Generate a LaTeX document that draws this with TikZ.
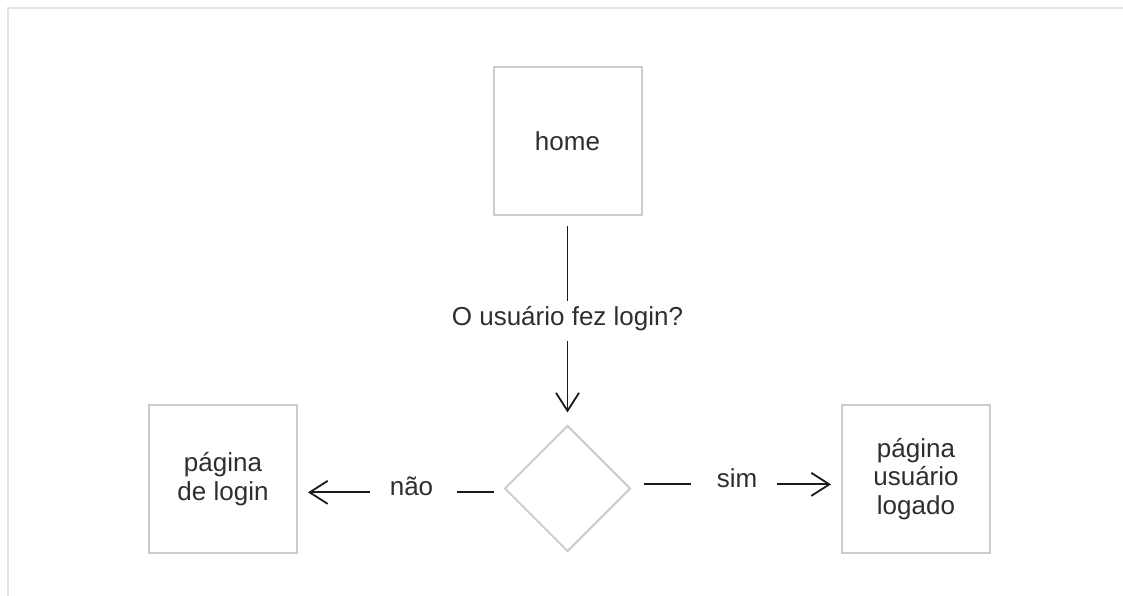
\documentclass[tikz,border=0pt]{standalone}
\usepackage{fontspec}
\setmainfont{Liberation Sans}
\usetikzlibrary{arrows.meta,shapes.geometric}
\definecolor{boxgray}{HTML}{CCCCCC}
\definecolor{framegray}{HTML}{E3E3E3}
\definecolor{txt}{HTML}{2E2E2E}
\definecolor{ink}{HTML}{1A1A1A}

\begin{document}
\begin{tikzpicture}[x=1pt,y=-1pt,
  page/.style={draw=boxgray,line width=2pt,minimum size=148pt,inner sep=0pt,
    align=center,text=txt,font=\fontsize{26}{28.5}\selectfont},
  decision/.style={diamond,draw=boxgray,line width=2pt,minimum width=126pt,
    minimum height=126pt,inner sep=0pt,aspect=1},
  lbl/.style={inner sep=0pt,text=txt,font=\fontsize{26}{29}\selectfont},
  link/.style={draw=ink,line width=1.8pt},
  flow/.style={link,-{Straight Barb[length=18pt,width=23pt]}}]

\useasboundingbox (0,0) rectangle (1123,596);

% page frame
\draw[framegray,line width=2pt] (7.5,596) -- (7.5,8.5) -- (1123,8.5);

% pages
\node[page] (home)   at (567.5,141) {home};
\node[page] (login)  at (223,479) {página\\de login};
\node[page] (logado) at (916,479) {página\\usuário\\logado};

% decision
\node[decision] (dia) at (567.5,488.5) {};

% labels
\node[lbl,anchor=base] (q)   at (567.5,325) {O usuário fez login?};
\node[lbl,anchor=base] (nao) at (411.5,495) {não};
\node[lbl,anchor=base] (sim) at (737,487)   {sim};

% connectors
\draw[link,shorten <=10pt,shorten >=5pt] (home) -- (q);
\draw[flow,shorten <=10pt,shorten >=12pt] (q) -- (dia);

\draw[link,shorten <=10pt,shorten >=24pt] (dia.west |- nao.mid) -- (nao.mid east);
\draw[flow,shorten <=20pt,shorten >=10pt] (nao.mid west) -- (nao.mid -| login.east);

\draw[link,shorten <=12pt,shorten >=26pt] (dia.east |- sim.mid) -- (sim.mid west);
\draw[flow,shorten <=20pt,shorten >=10pt] (sim.mid east) -- (sim.mid -| logado.west);
\end{tikzpicture}
\end{document}
